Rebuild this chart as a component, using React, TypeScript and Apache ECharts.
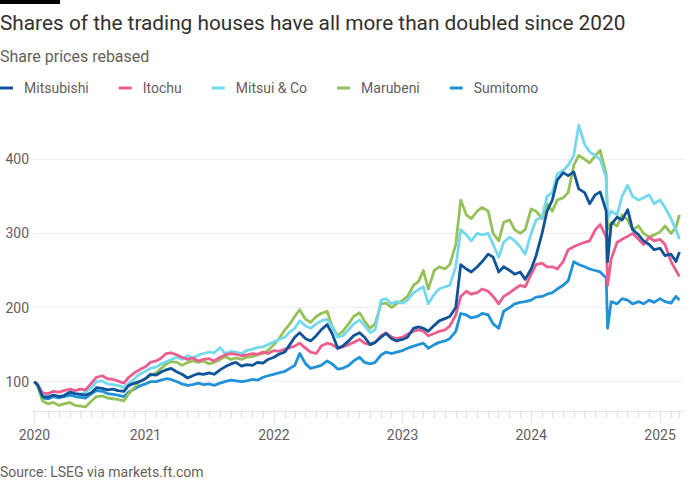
import React, { useEffect, useRef } from "react";
import * as echarts from "echarts";

const dates = [
  "2020-02-21","2020-03-01","2020-03-15","2020-04-01","2020-04-15","2020-05-01","2020-05-15","2020-06-01","2020-06-15","2020-07-01",
  "2020-07-15","2020-08-01","2020-08-15","2020-09-01","2020-09-15","2020-10-01","2020-10-15","2020-11-01","2020-11-15","2020-12-01",
  "2020-12-15","2021-01-01","2021-01-15","2021-02-01","2021-02-15","2021-03-01","2021-03-15","2021-04-01","2021-04-15","2021-05-01",
  "2021-05-15","2021-06-01","2021-06-15","2021-07-01","2021-07-15","2021-08-01","2021-08-15","2021-09-01","2021-09-15","2021-10-01",
  "2021-10-15","2021-11-01","2021-11-15","2021-12-01","2021-12-15","2022-01-01","2022-01-15","2022-02-01","2022-02-15","2022-03-01",
  "2022-03-15","2022-04-01","2022-04-15","2022-05-01","2022-05-15","2022-06-01","2022-06-15","2022-07-01","2022-07-15","2022-08-01",
  "2022-08-15","2022-09-01","2022-09-15","2022-10-01","2022-10-15","2022-11-01","2022-11-15","2022-12-01","2022-12-15","2023-01-01",
  "2023-01-15","2023-02-01","2023-02-15","2023-03-01","2023-03-15","2023-04-01","2023-04-15","2023-05-01","2023-05-15","2023-06-01",
  "2023-06-15","2023-07-01","2023-07-15","2023-08-01","2023-08-15","2023-09-01","2023-09-15","2023-10-01","2023-10-15","2023-11-01",
  "2023-11-15","2023-12-01","2023-12-15","2024-01-01","2024-01-15","2024-02-01","2024-02-15","2024-03-01","2024-03-15","2024-04-01",
  "2024-04-15","2024-05-01","2024-05-15","2024-06-01","2024-06-15","2024-07-01","2024-07-15","2024-08-01","2024-08-05","2024-08-15",
  "2024-09-01","2024-09-15","2024-10-01","2024-10-15","2024-11-01","2024-11-15","2024-12-01","2024-12-15","2025-01-01","2025-01-15",
  "2025-02-01","2025-02-15","2025-02-25",
];

const mitsubishi = [
  100,96,80,79,82,80,81,86,84,83,
  82,85,92,91,89,90,88,87,95,98,
  100,104,110,109,113,116,118,113,110,105,
  108,111,110,112,110,116,120,124,126,121,
  123,122,126,125,130,133,137,140,150,160,
  166,158,155,162,170,177,165,145,148,155,
  162,166,160,150,153,160,165,158,155,157,
  160,172,174,172,168,176,182,185,188,200,
  258,252,248,255,262,272,268,248,255,250,
  245,248,238,252,270,300,330,345,372,382,
  378,383,360,355,340,352,356,330,262,312,
  322,318,332,305,298,290,285,278,280,270,
  272,262,275,
];

const itochu = [
  100,96,85,84,87,86,88,90,88,90,
  89,98,106,108,104,103,101,98,106,112,
  116,120,126,128,132,138,139,136,133,130,
  132,128,130,131,128,133,136,138,137,135,
  136,138,137,140,138,142,141,144,146,148,
  152,145,140,138,148,152,150,145,147,150,
  153,157,152,150,153,162,166,160,158,160,
  164,168,170,168,162,165,168,170,175,190,
  215,222,218,220,225,222,215,205,215,220,
  225,230,228,245,258,260,255,255,252,262,
  278,282,285,288,290,305,312,295,230,265,
  288,292,296,300,292,285,295,290,292,285,
  262,250,242,
];

const mitsui = [
  100,95,82,80,82,80,82,86,84,83,
  86,92,100,101,97,96,95,92,98,104,
  110,114,118,120,124,127,130,133,130,135,
  132,136,138,140,139,146,138,141,140,138,
  142,144,146,147,150,154,157,160,167,172,
  182,175,172,178,182,184,174,160,162,170,
  178,183,176,166,170,210,212,205,208,206,
  210,220,224,228,205,218,225,228,230,255,
  305,298,290,300,298,300,285,268,288,295,
  290,282,272,300,318,322,350,355,380,385,
  392,405,446,420,410,405,400,375,320,330,
  325,350,365,350,345,348,352,340,345,335,
  320,305,292,
];

const marubeni = [
  100,94,74,70,72,68,70,72,68,67,
  66,74,80,81,78,77,76,74,84,92,
  100,104,108,112,118,124,127,126,122,126,
  128,126,128,124,126,130,134,130,132,130,
  133,134,136,138,142,150,158,170,178,188,
  197,184,180,188,192,195,175,162,168,178,
  188,193,182,172,178,205,206,200,205,210,
  215,230,235,250,225,250,255,252,258,285,
  345,325,320,330,335,330,300,290,315,318,
  305,300,305,333,330,320,340,330,345,348,
  355,392,405,400,395,405,412,380,305,315,
  310,325,318,305,310,300,295,298,302,310,
  300,308,325,
];

const sumitomo = [
  100,95,78,77,80,78,80,82,80,79,
  78,84,88,87,84,83,82,80,86,90,
  94,97,100,100,102,104,103,100,97,95,
  96,98,96,97,95,98,100,102,101,100,
  101,103,102,106,108,110,112,114,118,122,
  138,124,118,120,122,128,124,117,118,122,
  128,133,126,124,126,136,140,138,140,142,
  145,148,150,152,145,150,153,155,158,168,
  192,190,186,188,192,190,178,172,195,200,
  205,207,208,210,214,215,218,220,225,230,
  236,262,258,255,252,250,248,240,172,208,
  205,212,210,205,208,205,210,207,212,208,
  206,215,210,
];

const seriesNames = ["Mitsubishi", "Itochu", "Mitsui & Co", "Marubeni", "Sumitomo"];
const seriesValues = [mitsubishi, itochu, mitsui, marubeni, sumitomo];
const seriesColors = ["#0f5499", "#eb5e8d", "#75d9ee", "#96c15a", "#2191d9"];

const yTickValues = [100, 200, 300, 400];
const yearTickDates = ["2020-02-21", "2021-01-01", "2022-01-01", "2023-01-01", "2024-01-01", "2025-01-01"];
const axisStart = "2020-02-17";
const axisEnd = "2025-03-07";

const titleText = "Shares of the trading houses have all more than doubled since 2020";
const subtitleText = "Share prices rebased";
const sourceText = "Source: LSEG via markets.ft.com";

function toTime(s: string): number {
  const [y, m, d] = s.split("-").map(Number);
  return new Date(y, m - 1, d).getTime();
}

export default function App() {
  const ref = useRef<HTMLDivElement>(null);

  useEffect(() => {
    if (!ref.current) return;
    const chart = echarts.init(ref.current, undefined, { renderer: "svg" });

    const firstT = toTime(dates[0]);
    const lastT = toTime(dates[dates.length - 1]);
    const monthTicks: number[] = [firstT];
    for (let y = 2020; y <= 2025; y++) {
      for (let m = 0; m < 12; m++) {
        const t = new Date(y, m, 1).getTime();
        if (t > new Date(2020, 2, 15).getTime() && t < lastT) monthTicks.push(t);
      }
    }
    monthTicks.push(lastT);
    const yearTicks = yearTickDates.map(toTime);

    const font = "Roboto, 'Noto Sans', sans-serif";
    const grey = "#66605c";

    const order = [4, 3, 2, 1, 0];
    const series = order.map((i) => ({
      name: seriesNames[i],
      type: "line",
      xAxisIndex: 0,
      showSymbol: false,
      symbol: "none",
      silent: true,
      data: dates.map((d, k) => [toTime(d), seriesValues[i][k]]),
      lineStyle: { color: seriesColors[i], width: 2.8, join: "round" },
      itemStyle: { color: seriesColors[i] },
      emphasis: { disabled: true },
    }));

    chart.setOption({
      animation: false,
      backgroundColor: "#ffffff",
      textStyle: { fontFamily: font },
      title: [
        {
          text: titleText,
          left: 0,
          top: 12,
          padding: 0,
          textStyle: { fontSize: 20.8, fontWeight: "normal", color: "#33302e", fontFamily: font },
        },
        {
          text: subtitleText,
          left: 0,
          top: 48,
          padding: 0,
          textStyle: { fontSize: 16, fontWeight: "normal", color: grey, fontFamily: font },
        },
        {
          text: sourceText,
          left: 0,
          top: 465,
          padding: 0,
          textStyle: { fontSize: 14, fontWeight: "normal", color: grey, fontFamily: font },
        },
      ],
      legend: {
        data: seriesNames,
        left: 0,
        top: 81,
        padding: 0,
        icon: "rect",
        itemWidth: 13,
        itemHeight: 3,
        itemGap: 30,
        selectedMode: false,
        textStyle: { color: grey, fontSize: 14, fontFamily: font, padding: [0, 0, 0, 6] },
      },
      graphic: [
        { type: "rect", x: 0, y: 0, shape: { width: 60, height: 4 }, style: { fill: "#000000" } },
      ],
      grid: { left: 33, right: 17, top: 122.2, bottom: 88.65, containLabel: false },
      xAxis: [
        {
          type: "value",
          min: toTime(axisStart),
          max: toTime(axisEnd),
          position: "bottom",
          axisLine: { show: true, onZero: false, lineStyle: { color: "#e6e4e2", width: 1 } },
          axisTick: { show: true, customValues: monthTicks, length: 7, lineStyle: { color: "#e3e1df" } },
          axisLabel: { show: false },
          splitLine: { show: false },
        },
        {
          type: "value",
          min: toTime(axisStart),
          max: toTime(axisEnd),
          position: "bottom",
          axisLine: { show: false, onZero: false },
          axisTick: { show: true, customValues: yearTicks, length: 11, lineStyle: { color: "#e3e1df" } },
          axisLabel: {
            show: true,
            customValues: yearTicks,
            formatter: (v: number) => String(new Date(v).getFullYear()),
            margin: 17,
            color: grey,
            fontSize: 14,
            fontFamily: font,
          },
          splitLine: { show: false },
        },
      ],
      yAxis: {
        type: "value",
        min: 60,
        max: 450,
        axisLine: { show: false },
        axisTick: { show: false, customValues: yTickValues },
        axisLabel: { customValues: yTickValues, margin: 4, color: grey, fontSize: 14, fontFamily: font },
        splitLine: { show: true, lineStyle: { color: "#efeeed", width: 1 } },
      },
      series,
    });

    return () => chart.dispose();
  }, []);

  return (
    <div
      ref={ref}
      style={{ position: "absolute", left: 0, top: 0, width: 700, height: 500, background: "#ffffff" }}
    />
  );
}
